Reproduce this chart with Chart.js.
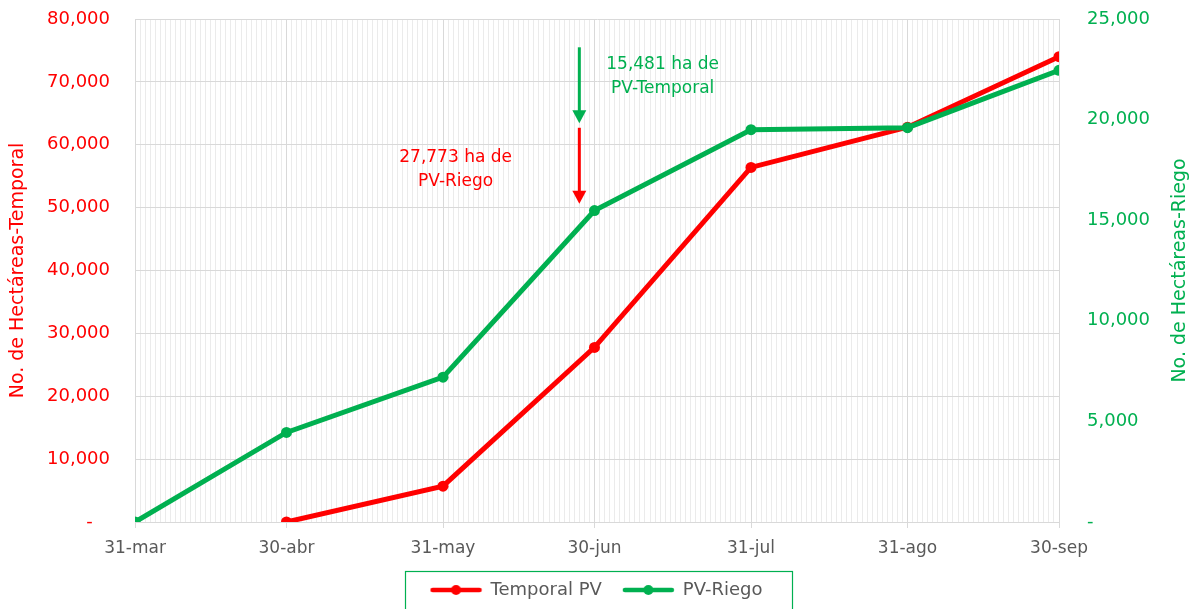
<!DOCTYPE html>
<html><head><meta charset="utf-8">
<script src="https://cdn.jsdelivr.net/npm/chart.js@4"></script>
<style>html,body{margin:0;padding:0;background:#fff}#wrap{width:1194px;height:609px;position:relative}</style>
</head><body><div id="wrap"><canvas id="c"></canvas></div>
<script>
// ---- data ----
const categories = ['31-mar','30-abr','31-may','30-jun','31-jul','31-ago','30-sep'];
const dates = ['2020-03-31','2020-04-30','2020-05-31','2020-06-30','2020-07-31','2020-08-31','2020-09-30'];
const temporalPV = [null, 0, 5700, 27773, 56400, 62800, 74000];
const pvRiego = [0, 4450, 7200, 15481, 19500, 19600, 22450];
const leftAxis = {min: 0, max: 80000, step: 10000};
const rightAxis = {min: 0, max: 25000, step: 5000};
const seriesNames = ['Temporal PV', 'PV-Riego'];
const noteGreen = ['15,481 ha de', 'PV-Temporal'];
const noteRed = ['27,773 ha de', 'PV-Riego'];

// ---- derived ----
const DAY = 86400000;
const t0 = Date.parse(dates[0]);
const dayOffsets = dates.map(d => Math.round((Date.parse(d) - t0) / DAY));
const lastDay = dayOffsets[dayOffsets.length - 1];
const majorSet = new Set(dayOffsets);
const labelFor = {};
dayOffsets.forEach((d, i) => labelFor[d] = categories[i]);

const RED = '#FF0000', GREEN = '#00B050', GRAY = '#595959';
const FONT = "'DejaVu Sans', sans-serif";
const PLOT = {left: 135, right: 1059, top: 19, bottom: 522};

function legendIcon(color) {
  const c = document.createElement('canvas');
  c.width = 54; c.height = 14;
  const g = c.getContext('2d');
  g.strokeStyle = color; g.lineWidth = 4.5; g.lineCap = 'round';
  g.beginPath(); g.moveTo(3, 7); g.lineTo(50, 7); g.stroke();
  g.fillStyle = color; g.beginPath(); g.arc(26.5, 7, 5, 0, Math.PI * 2); g.fill();
  return c;
}
const icons = {0: legendIcon(GREEN), 1: legendIcon(RED)};

const pts = arr => dayOffsets.map((d, i) => ({x: d, y: arr[i]})).filter(p => p.y !== null);

// annotation placement (in data units)
const notes = {
  arrowDay: 88,
  green: {from: 75500, to: 63400, textDay: 104.5, lines: [72700, 69000]},
  red: {from: 62700, to: 50600, textDay: 63.5, lines: [57900, 54200]}
};

const annotPlugin = {
  id: 'annot',
  afterDatasetsDraw(chart) {
    const {ctx, scales: {x, yL}} = chart;
    const ax = x.getPixelForValue(notes.arrowDay);
    function arrow(color, yFrom, yTo) {
      const y1 = yL.getPixelForValue(yFrom), y2 = yL.getPixelForValue(yTo);
      ctx.save();
      ctx.strokeStyle = color; ctx.fillStyle = color; ctx.lineWidth = 3;
      ctx.beginPath(); ctx.moveTo(ax, y1); ctx.lineTo(ax, y2 - 10); ctx.stroke();
      ctx.beginPath(); ctx.moveTo(ax - 7, y2 - 13); ctx.lineTo(ax + 7, y2 - 13); ctx.lineTo(ax, y2); ctx.closePath(); ctx.fill();
      ctx.restore();
    }
    arrow(GREEN, notes.green.from, notes.green.to);
    arrow(RED, notes.red.from, notes.red.to);
    ctx.save();
    ctx.font = '17px ' + FONT; ctx.textAlign = 'center'; ctx.textBaseline = 'middle';
    ctx.fillStyle = GREEN;
    noteGreen.forEach((t, i) => ctx.fillText(t, x.getPixelForValue(notes.green.textDay), yL.getPixelForValue(notes.green.lines[i])));
    ctx.fillStyle = RED;
    noteRed.forEach((t, i) => ctx.fillText(t, x.getPixelForValue(notes.red.textDay), yL.getPixelForValue(notes.red.lines[i])));
    ctx.restore();
  },
  afterDraw(chart) {
    const {ctx, chartArea, legend} = chart;
    // right axis title (reads bottom to top)
    ctx.save();
    ctx.translate(1180, (chartArea.top + chartArea.bottom) / 2);
    ctx.rotate(-Math.PI / 2);
    ctx.font = '19px ' + FONT; ctx.fillStyle = GREEN; ctx.textAlign = 'center'; ctx.textBaseline = 'middle';
    ctx.fillText('No. de Hectáreas-Riego', 0, 0);
    ctx.restore();
    // legend frame
    if (legend && legend.legendHitBoxes && legend.legendHitBoxes.length) {
      const hb = legend.legendHitBoxes;
      const l = Math.min(...hb.map(h => h.left)) - 27;
      const r = Math.max(...hb.map(h => h.left + h.width)) + 29;
      const cy = hb[0].top + hb[0].height / 2;
      ctx.save();
      ctx.strokeStyle = GREEN; ctx.lineWidth = 1.2;
      ctx.strokeRect(Math.round(l) + 0.5, Math.round(cy - 19) + 0.5, Math.round(r - l), 45);
      ctx.restore();
    }
  }
};

Chart.defaults.font.family = FONT;

function noPadV(s) { s.paddingTop = 0; s.paddingBottom = 0; }

new Chart(document.getElementById('c'), {
  type: 'line',
  data: {
    datasets: [
      {label: seriesNames[1], data: pts(pvRiego), yAxisID: 'yR', borderColor: GREEN, backgroundColor: GREEN,
       borderWidth: 5, pointRadius: 5.5, pointHoverRadius: 5.5, pointBorderWidth: 0, tension: 0},
      {label: seriesNames[0], data: pts(temporalPV), yAxisID: 'yL', borderColor: RED, backgroundColor: RED,
       borderWidth: 5, pointRadius: 5.5, pointHoverRadius: 5.5, pointBorderWidth: 0, tension: 0}
    ]
  },
  options: {
    responsive: true, maintainAspectRatio: false, animation: false,
    layout: {autoPadding: false, padding: {top: PLOT.top, left: 0, right: 0, bottom: 0}},
    plugins: {
      tooltip: {enabled: false},
      legend: {
        position: 'bottom',
        labels: {
          usePointStyle: true, pointStyleWidth: 50, boxHeight: 14, padding: 22,
          color: GRAY, font: {family: FONT, size: 18},
          sort: (a, b) => b.datasetIndex - a.datasetIndex,
          generateLabels(chart) {
            const items = Chart.defaults.plugins.legend.labels.generateLabels(chart);
            items.forEach(it => { it.pointStyle = icons[it.datasetIndex]; });
            return items;
          }
        }
      }
    },
    scales: {
      x: {
        type: 'linear', min: 0, max: lastDay,
        afterBuildTicks(s) { const t = []; for (let d = 0; d <= lastDay; d++) t.push({value: d}); s.ticks = t; },
        afterFit(s) { const lh = s.chart.legend ? s.chart.legend.height : 47; s.height = s.chart.height - PLOT.bottom - lh; s.paddingLeft = 0; s.paddingRight = 0; },
        ticks: {autoSkip: false, maxRotation: 0, minRotation: 0, padding: 10, color: GRAY, font: {family: FONT, size: 17},
                callback: v => labelFor[v] !== undefined ? labelFor[v] : ''},
        grid: {
          color: c => (c.tick && majorSet.has(c.tick.value)) ? '#d9d9d9' : '#ebebeb',
          tickColor: c => (c.tick && majorSet.has(c.tick.value)) ? '#d9d9d9' : 'rgba(0,0,0,0)',
          tickLength: 6, lineWidth: 1
        },
        border: {color: '#d9d9d9'}
      },
      yL: {
        position: 'left', min: leftAxis.min, max: leftAxis.max,
        afterFit(s) { s.width = PLOT.left; noPadV(s); },
        ticks: {stepSize: leftAxis.step, padding: 25, color: RED, font: {family: FONT, size: 18},
                callback: v => v === 0 ? '-   ' : v.toLocaleString('en-US')},
        grid: {color: '#d9d9d9', drawTicks: false},
        border: {color: '#d9d9d9'},
        title: {display: true, text: 'No. de Hectáreas-Temporal', color: RED, font: {family: FONT, size: 19}, padding: {top: 7, bottom: 0}}
      },
      yR: {
        position: 'right', min: rightAxis.min, max: rightAxis.max,
        afterFit(s) { s.width = s.chart.width - PLOT.right; noPadV(s); },
        ticks: {stepSize: rightAxis.step, padding: 28, color: GREEN, font: {family: FONT, size: 18},
                callback: v => v === 0 ? '-' : v.toLocaleString('en-US')},
        grid: {display: false, drawTicks: false},
        border: {display: false}
      }
    }
  },
  plugins: [annotPlugin]
});
</script></body></html>
